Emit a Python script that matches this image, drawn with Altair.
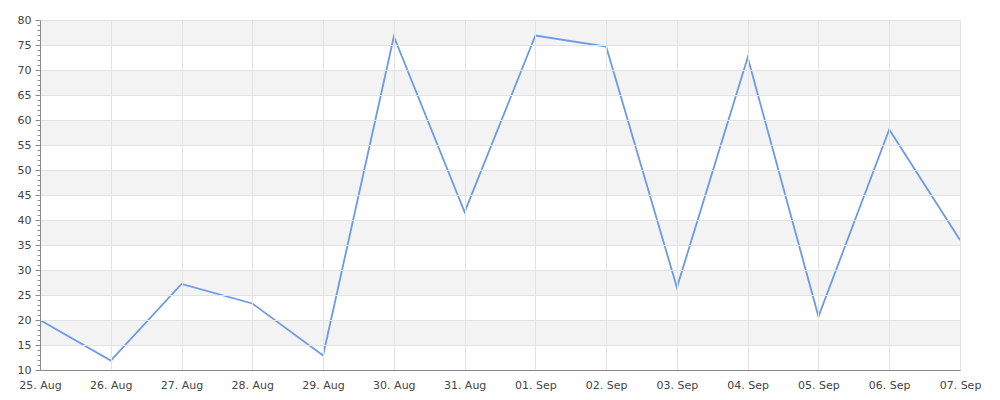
import altair as alt
import pandas as pd

dates = ["25. Aug", "26. Aug", "27. Aug", "28. Aug", "29. Aug", "30. Aug", "31. Aug",
         "01. Sep", "02. Sep", "03. Sep", "04. Sep", "05. Sep", "06. Sep", "07. Sep"]
values = [20.0, 11.9, 27.2, 23.3, 12.9, 76.7, 41.6, 76.9, 74.7, 26.5, 72.5, 20.7, 58.1, 36.0]

band_lo = [15, 25, 35, 45, 55, 65, 75]
band_hi = [20, 30, 40, 50, 60, 70, 80]

y_major = list(range(10, 81, 5))
y_minor = list(range(10, 81, 1))

df = pd.DataFrame({"date": dates, "value": values})
bands = pd.DataFrame({"lo": band_lo, "hi": band_hi})

FONT = "DejaVu Sans"
LABEL = "#444444"
yscale = alt.Scale(domain=[10, 80], nice=False, zero=False)

xenc = alt.X("date:O", sort=None, title=None,
             scale=alt.Scale(type="point", padding=0),
             axis=alt.Axis(labelAngle=0, ticks=False, grid=True, gridColor="#e2e2e2",
                           domainColor="#8a8a8a", labelPadding=9, labelFont=FONT,
                           labelFontSize=11, labelColor=LABEL, zindex=1))

band_layer = alt.Chart(bands).mark_rect(color="#f3f3f3").encode(
    y=alt.Y("lo:Q", scale=yscale, title=None,
            axis=alt.Axis(values=y_major, grid=True, gridColor="#e2e2e2",
                          domainColor="#8a8a8a", tickColor="#8a8a8a", tickSize=5,
                          labelPadding=4, labelFont=FONT, labelFontSize=11,
                          labelColor=LABEL, orient="left", zindex=1)),
    y2="hi:Q",
)

minor_layer = alt.Chart(bands).mark_rule(opacity=0).encode(
    y=alt.Y("lo:Q", scale=yscale, title=None,
            axis=alt.Axis(values=y_minor, labels=False, grid=False, domain=False,
                          tickColor="#8a8a8a", tickSize=3, orient="left")),
)

line_layer = alt.Chart(df).mark_line(color="#6c9ae6", strokeWidth=1.8).encode(
    x=xenc,
    y=alt.Y("value:Q", scale=yscale, axis=None),
)

chart = (
    alt.layer(band_layer, minor_layer, line_layer)
    .resolve_scale(y="shared")
    .resolve_axis(y="independent")
    .properties(width=920, height=350, autosize=alt.AutoSizeParams(type="none"),
                padding={"left": 32, "top": 12, "right": 30, "bottom": 30})
    .configure_view(stroke=None)
)

chart.save("out.html", embed_options={"renderer": "svg", "actions": False})
